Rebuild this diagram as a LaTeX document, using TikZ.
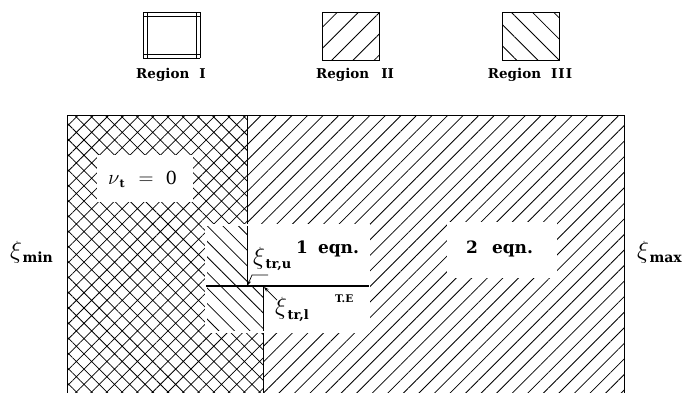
\documentclass[tikz,border=0pt]{standalone}
\usepackage{fontspec}
\setmainfont{DejaVu Serif}
\usetikzlibrary{patterns.meta,arrows.meta}
\begin{document}
\begin{tikzpicture}[x=1pt,y=-1pt,
  hatchNE/.style={pattern={Lines[angle=45,distance=11pt,line width=0.8pt]}},
  hatchNW/.style={pattern={Lines[angle=-45,distance=11pt,line width=0.8pt]}},
  crosshatch/.style={pattern={Hatch[angle=45,distance=10.8pt,line width=0.75pt]}},
  legNE/.style={pattern={Lines[angle=45,distance=15pt,line width=0.8pt]}},
  legNW/.style={pattern={Lines[angle=-45,distance=15pt,line width=0.8pt]}},
  frame/.style={line width=0.9pt},
  thinframe/.style={line width=0.7pt},
  lbl/.style={font=\fontsize{13.5}{15}\selectfont\bfseries, inner sep=0pt, anchor=base},
  eqn/.style={font=\fontsize{17}{20}\selectfont\bfseries, inner sep=0pt, anchor=base west},
  nustyle/.style={font=\fontsize{20}{22}\selectfont, inner sep=0pt, anchor=base west},
  xilbl/.style={font=\fontsize{23}{26}\selectfont, inner sep=0pt, anchor=base west},
  small/.style={font=\fontsize{10.5}{12}\selectfont\bfseries, inner sep=0pt, anchor=base west},
  lead/.style={line width=0.7pt, -{Stealth[length=5pt,width=3.5pt]}}
]
\useasboundingbox (0,0) rectangle (687,392);
\clip (0,0) rectangle (687,392);

% ---------- legend ----------
\foreach \yy in {12,16,54,58} {\draw[thinframe] (143,\yy) -- (200,\yy);}
\foreach \xx in {143,147,196,200} {\draw[thinframe] (\xx,12) -- (\xx,58);}
\node[lbl] (r1) at (171,78) {Region\hspace{10pt}I};

\draw[thinframe, legNE] (322,12) rectangle (379,60);
\node[lbl] (r2) at (355,78) {Region\hspace{12pt}II};

\draw[thinframe, legNW] (502,12) rectangle (559,60);
\node[lbl] (r3) at (530,78) {Region\hspace{10pt}I\kern1ptI\kern1ptI};

% ---------- main field ----------
\fill[hatchNE] (67,115) rectangle (624,400);
\fill[white] (67,115) -- (247,115) -- (247,286) -- (263,286) -- (263,400) -- (67,400) -- cycle;
\fill[crosshatch] (67,115) -- (247,115) -- (247,286) -- (263,286) -- (263,400) -- (67,400) -- cycle;

% inner box
\fill[white] (206,225) rectangle (369,332);
\fill[hatchNW] (206,225) rectangle (247,286);
\fill[hatchNW] (206,286) rectangle (263,332);

% white text areas
\fill[white] (97,155) rectangle (193,202);
\fill[white] (447,222) rectangle (557,278);

% boundaries
\draw[frame] (67,115) rectangle (624,400);
\draw[frame] (247,115) -- (247,286);
\draw[frame] (263,286) -- (263,400);
\draw[double, double distance=1.6pt, line width=0.6pt] (206,225) rectangle (369,332);
\draw[line width=1.8pt] (206,286) -- (369,286);

% ---------- texts ----------
\node[nustyle] (nu) at (108,184) {$\nu$\raisebox{-3pt}{\fontsize{11}{12}\selectfont\bfseries t}\hspace{14pt}$=$\hspace{12pt}{\fontsize{18}{20}\selectfont 0}};
\node[eqn] (two) at (466,253) {2\hspace{14pt}eqn.};
\node[eqn] (one) at (296,253) {1\hspace{10pt}eqn.};
\node[small] (te) at (335,302) {T.E};

\node[xilbl] (ximin) at (10,258) {$\xi$\kern0.5pt\raisebox{-4pt}{\fontsize{14}{16}\selectfont\bfseries min}};
\node[xilbl] (ximax) at (637,258) {$\xi$\kern0.5pt\raisebox{-4pt}{\fontsize{14}{16}\selectfont\bfseries max}};
\node[xilbl] (xiu) at (253,264) {$\xi$\kern0.5pt\raisebox{-4pt}{\fontsize{13}{15}\selectfont\bfseries tr,u}};
\node[xilbl] (xil) at (275,314) {$\xi$\kern0.5pt\raisebox{-5pt}{\fontsize{13}{15}\selectfont\bfseries tr,l}};

% leaders
\coordinate (ua0) at (268,275);
\coordinate (ua1) at (252,275);
\coordinate (ua2) at (247.5,285.5);
\draw[lead] (ua0) -- (ua1) -- (ua2);
\coordinate (la0) at (277,300);
\coordinate (la1) at (264,287);
\draw[lead] (la0) -- (la1);
\end{tikzpicture}
\end{document}
